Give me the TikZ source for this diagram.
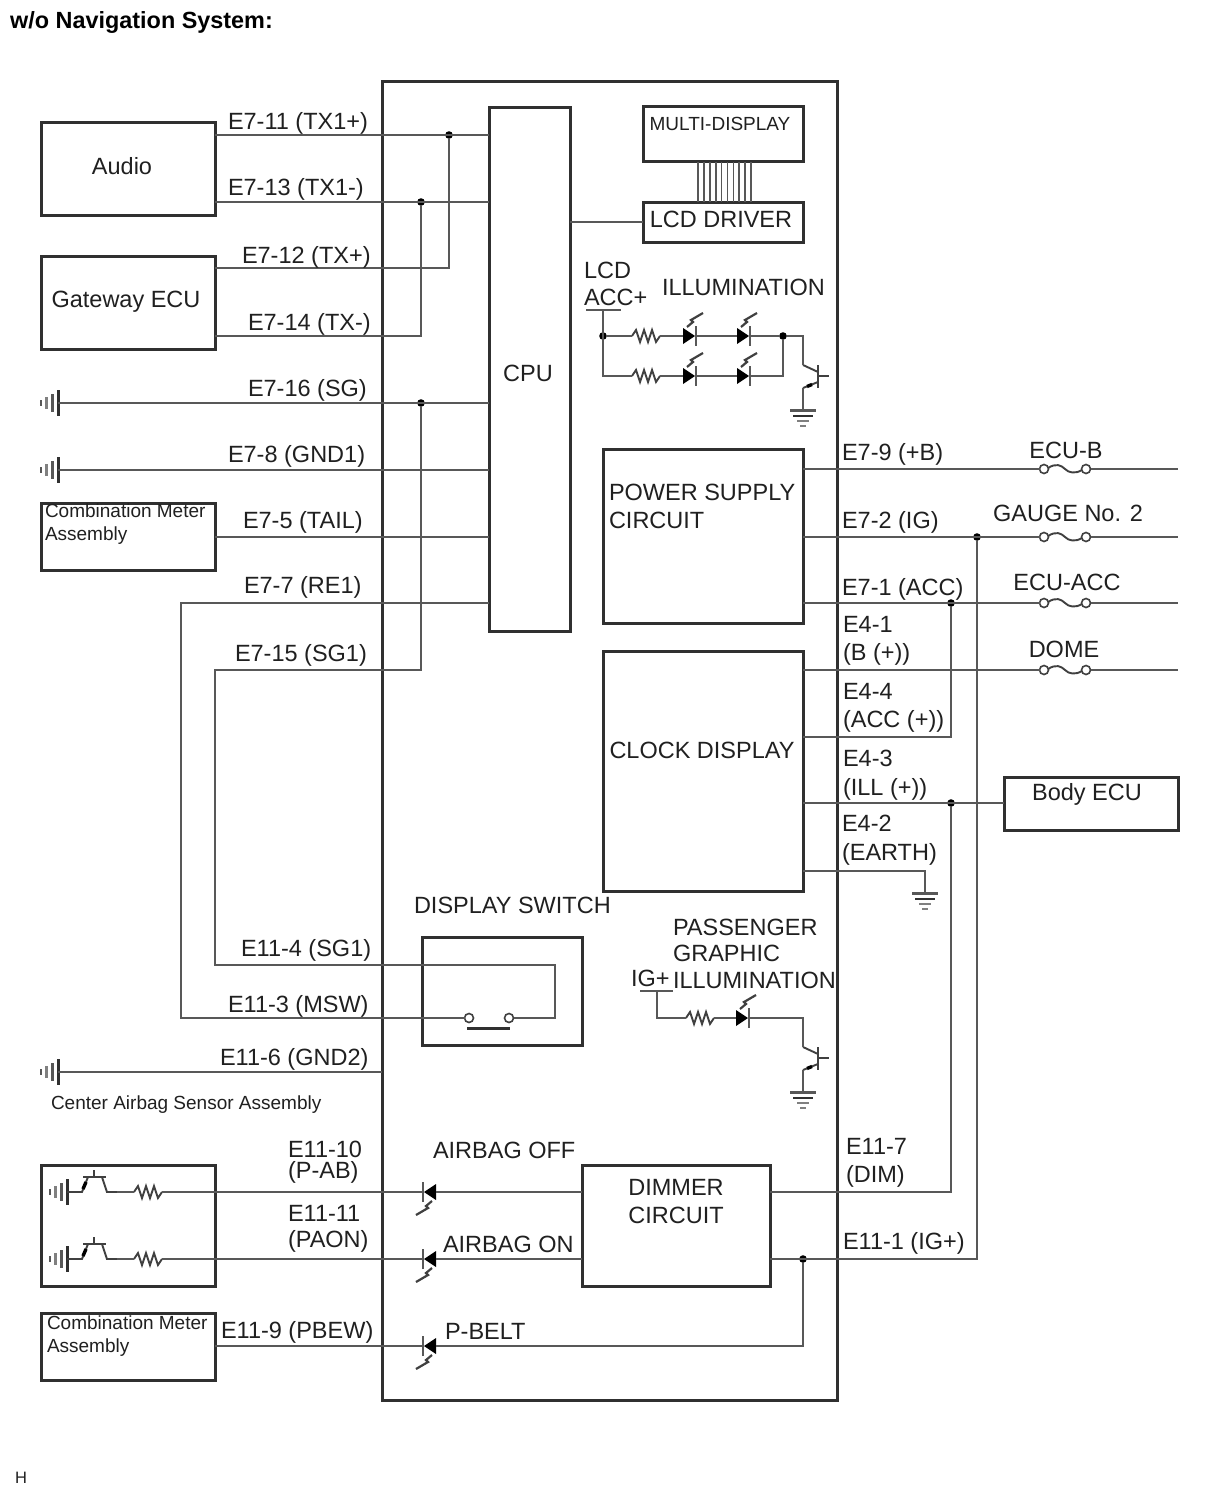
\documentclass[tikz,border=0pt]{standalone}
\usepackage{fontspec}
\setmainfont{Liberation Sans}
\newcommand{\lab}[4]{\node[lab] (#1) at (#2,#3) {#4};}
\newcommand{\clab}[4]{\node[lab,anchor=center] (#1) at (#2,#3) {#4};}
\newcommand{\slab}[4]{\node[slab] (#1) at (#2,#3) {#4};}
\newcommand{\bx}[5]{\node[boxn,minimum width={#4-#2},minimum height={#5-#3}] (#1) at ({(#2+#4)/2},{(#3+#5)/2}) {};}
\tikzset{
  x=1pt,y=-1pt,
  boxn/.style={draw=boxc,line width=3pt,fill=none,inner sep=0pt,outer sep=0pt},
  wire/.style={draw=wirec,line width=2.7pt,line join=miter},
  part/.style={draw=partc,line width=1.9pt,line join=miter},
  lab/.style={anchor=west,inner sep=0pt,outer sep=0pt,text=txtc,text height=16.7pt,text depth=0pt,font=\fontsize{23.5}{26}\selectfont},
  slab/.style={anchor=west,inner sep=0pt,outer sep=0pt,text=txtc,text height=13.6pt,text depth=0pt,font=\fontsize{19}{22}\selectfont},
  jdot/.style={circle,fill=black,draw=none,minimum size=7.6pt,inner sep=0pt,outer sep=0pt},
  cont/.style={circle,draw=partc,line width=1.6pt,fill=white,minimum size=9pt,inner sep=0pt,outer sep=0pt},
  resistor/.pic={
    \coordinate (-in) at (0,0); \coordinate (-out) at (28,0);
    \draw[part] (0,0)--(4,-6)--(8,6)--(12,-6)--(16,6)--(20,-6)--(24,6)--(28,0);
  },
  ledr/.pic={
    \coordinate (-in) at (0,0); \coordinate (-out) at (13,0);
    \fill[black] (0,-8)--(0,8)--(12,0)--cycle;
    \draw[wirec,line width=2.6pt] (13,-10)--(13,10);
    \draw[partc,line width=2.2pt] (4,-9)--(10,-14)--(8,-16)--(20,-23);
  },
  gndh/.pic={
    \coordinate (-o) at (0,0);
    \draw[boxc,line width=3pt] (0,-13)--(0,13);
    \draw[wirec,line width=3pt] (-6,-9)--(-6,9);
    \draw[gray,line width=3pt] (-12,-6)--(-12,6);
    \draw[wirec,line width=2.6pt] (-17,-3)--(-17,3);
  },
  gndv/.pic={
    \coordinate (-o) at (0,0);
    \draw[wirec,line width=3pt] (-13,0)--(13,0);
    \draw[boxc,line width=2.4pt] (-10,6)--(10,6);
    \draw[gray,line width=2.6pt] (-6,11)--(6,11);
    \draw[gray,line width=2.6pt] (-3,16)--(3,16);
  },
  trans/.pic={
    \coordinate (-in) at (0,0); \coordinate (-out) at (0,23);
    \draw[part] (0,0)--(15,7);
    \draw[part] (15,0)--(15,23);
    \draw[part] (15,11)--(26,11);
    \draw[part] (15,17)--(0,23);
    \draw[black,line width=3.4pt] (9,19.5)--(4,21.5);
  },
  fuse/.pic={
    \coordinate (-in) at (-4.5,0); \coordinate (-out) at (46.5,0);
    \draw[part] (4,-1) .. controls (12,-6) and (17,-4) .. (21,0) .. controls (25,4) and (31,5) .. (38,1);
    \node[cont] (-a) at (0,0) {};
    \node[cont] (-b) at (42,0) {};
  },
  nosw/.pic={
    \coordinate (-o) at (0,0); \coordinate (-out) at (50,0);
    \draw[part] (0,0)--(15,0)--(21,-15);
    \draw[black,line width=3.4pt] (16,-3)--(19,-10);
    \draw[part] (16,-15)--(39,-15);
    \draw[part] (27,-15)--(27,-22);
    \draw[part] (35,-15)--(40,0)--(50,0);
  },
}
\definecolor{boxc}{HTML}{303030}
\definecolor{wirec}{HTML}{585858}
\definecolor{partc}{HTML}{404040}
\definecolor{txtc}{HTML}{202020}
\begin{document}
\begin{tikzpicture}
\useasboundingbox (0,0) rectangle (1210,1498);
\fill[white] (0,0) rectangle (1210,1498);

% ---- boxes
\bx{frame}{382}{82}{837}{1400}
\bx{cpu}{489}{108}{570}{631}
\bx{mdisp}{643}{107}{803}{162}
\bx{lcd}{643}{202}{803}{242}
\bx{audio}{41}{123}{215}{215}
\bx{gate}{41}{256}{215}{349}
\bx{meterA}{41}{503}{215}{570}
\bx{psu}{603}{449}{803}{623}
\bx{clock}{603}{651}{803}{891}
\bx{body}{1004}{777}{1178}{830}
\bx{dsw}{422}{937}{582}{1045}
\bx{sensor}{41}{1165}{215}{1286}
\bx{meterB}{41}{1313}{215}{1380}
\bx{dimmer}{582}{1165}{770}{1286}

% ---- multi-display bus
\foreach \i in {0,...,9}{
  \draw[wirec,line width=1.7pt] ({698+\i*5.9},162) -- ({698+\i*5.9},202);
}
\draw[wire] (cpu.east |- 0,222) -- (lcd.west |- 0,222);

% ---- free coordinates and fuses
\coordinate (endB) at (1178,469);
\coordinate (endG) at (1178,537);
\coordinate (endA) at (1178,603);
\coordinate (endD) at (1178,670);
\pic (fB) at (1044,469) {fuse};
\pic (fG) at (1044,537) {fuse};
\pic (fA) at (1044,603) {fuse};
\pic (fD) at (1044,670) {fuse};

% ---- left grounds
\pic (g1) at (58,403) {gndh};
\pic (g2) at (58,470) {gndh};
\pic (g3) at (58,1072) {gndh};
\node[jdot] (jTXp) at (449,135) {};
\node[jdot] (jTXm) at (421,202) {};
\node[jdot] (jSG) at (421,403) {};

% ---- CPU wires
\draw[wire] (audio.east |- 0,135) -- (cpu.west |- 0,135);
\draw[wire] (audio.east |- 0,202) -- (cpu.west |- 0,202);
\draw[wire] (gate.east |- 0,268) -| (jTXp);
\draw[wire] (gate.east |- 0,336) -| (jTXm);
\draw[wire] (g1-o) -- (cpu.west |- 0,403);
\draw[wire] (g2-o) -- (cpu.west |- 0,470);
\draw[wire] (meterA.east |- 0,537) -- (cpu.west |- 0,537);

% ---- display switch
\node[cont] (swa) at (469,1018) {};
\node[cont] (swb) at (509,1018) {};
\coordinate (swbarA) at (467,1028);
\coordinate (swbarB) at (510,1028);
\draw[boxc,line width=3pt] (swbarA) -- (swbarB);
\coordinate (re1a) at (181,603);
\coordinate (re1b) at (181,1018);
\draw[wire] (cpu.west |- 0,603) -- (re1a) -- (re1b) -- (swa);
\coordinate (sg1a) at (421,670);
\coordinate (sg1b) at (215,670);
\coordinate (sg1c) at (215,965);
\coordinate (sg1d) at (555,965);
\coordinate (sg1e) at (555,1018);
\draw[wire] (jSG) -- (sg1a) -- (sg1b) -- (sg1c) -- (sg1d) -- (sg1e) -- (swb);
\draw[wire] (g3-o) -- (frame.west |- 0,1072);

% ---- right-hand junctions and wires
\node[jdot] (jIG) at (977,537) {};
\node[jdot] (jACC) at (951,603) {};
\node[jdot] (jILL) at (951,803) {};
\node[jdot] (jBelt) at (803,1259) {};
\draw[wire] (psu.east |- 0,469) -- (fB-in);
\draw[wire] (fB-out) -- (endB);
\draw[wire] (psu.east |- 0,537) -- (fG-in);
\draw[wire] (fG-out) -- (endG);
\draw[wire] (psu.east |- 0,603) -- (fA-in);
\draw[wire] (fA-out) -- (endA);
\draw[wire] (clock.east |- 0,670) -- (fD-in);
\draw[wire] (fD-out) -- (endD);
\draw[wire] (clock.east |- 0,737) -| (jACC);
\draw[wire] (clock.east |- 0,803) -- (body.west |- 0,803);
\pic (gClk) at (925,893) {gndv};
\draw[wire] (clock.east |- 0,871) -| (gClk-o);
\draw[wire] (dimmer.east |- 0,1192) -| (jILL);
\draw[wire] (dimmer.east |- 0,1259) -| (jIG);

% ---- LCD illumination
\coordinate (lcdBarA) at (586,310);
\coordinate (lcdBarB) at (621,310);
\coordinate (lcdTop) at (603,310);
\coordinate (lcdLow) at (603,376);
\draw[wire] (lcdBarA) -- (lcdBarB);
\node[jdot] (jL1) at (603,336) {};
\node[jdot] (jL2) at (783,336) {};
\pic (r1) at (632,336) {resistor};
\pic (r2) at (632,376) {resistor};
\pic (l1) at (683,336) {ledr};
\pic (l2) at (737,336) {ledr};
\pic (l3) at (683,376) {ledr};
\pic (l4) at (737,376) {ledr};
\pic (t1) at (803,365) {trans};
\pic (gT1) at (803,410) {gndv};
\coordinate (lcdLowR) at (783,376);
\draw[wire] (lcdTop) -- (lcdLow) -- (r2-in);
\draw[wire] (jL1) -- (r1-in);
\draw[wire] (r1-out) -- (l1-in);
\draw[wire] (r2-out) -- (l3-in);
\draw[wire] (l1-out) -- (l2-in);
\draw[wire] (l3-out) -- (l4-in);
\draw[wire] (l2-out) -- (jL2);
\draw[wire] (l4-out) -- (lcdLowR) -- (jL2);
\draw[wire] (jL2) -| (t1-in);
\draw[wire] (t1-out) -- (gT1-o);

% ---- passenger graphic illumination
\coordinate (igBarA) at (640,991);
\coordinate (igBarB) at (673,991);
\coordinate (igTop) at (657,991);
\coordinate (igCorner) at (657,1018);
\draw[wire] (igBarA) -- (igBarB);
\pic (r3) at (686,1018) {resistor};
\pic (l5) at (736,1018) {ledr};
\pic (t2) at (803,1047) {trans};
\pic (gT2) at (803,1092) {gndv};
\draw[wire] (igTop) -- (igCorner) -- (r3-in);
\draw[wire] (r3-out) -- (l5-in);
\draw[wire] (l5-out) -| (t2-in);
\draw[wire] (t2-out) -- (gT2-o);

% ---- airbag sensor box
\pic (g4) at (67,1192) {gndh};
\pic (g5) at (67,1259) {gndh};
\pic (s1) at (67,1192) {nosw};
\pic (s2) at (67,1259) {nosw};
\pic (r4) at (134,1192) {resistor};
\pic (r5) at (134,1259) {resistor};
\draw[wire] (s1-out) -- (r4-in);
\draw[wire] (s2-out) -- (r5-in);

% ---- indicator LEDs
\pic[rotate=180] (l6) at (436,1192) {ledr};
\pic[rotate=180] (l7) at (436,1259) {ledr};
\pic[rotate=180] (l8) at (436,1346) {ledr};
\draw[wire] (r4-out) -- (l6-out);
\draw[wire] (r5-out) -- (l7-out);
\draw[wire] (meterB.east |- 0,1346) -- (l8-out);
\draw[wire] (dimmer.west |- 0,1192) -- (l6-in);
\draw[wire] (dimmer.west |- 0,1259) -- (l7-in);
\coordinate (beltC) at (803,1346);
\draw[wire] (l8-in) -- (beltC) -- (jBelt);

% ---- texts
\node[anchor=west,inner sep=0pt,text=black,text height=16.2pt,text depth=0pt,font=\fontsize{23.4}{26}\selectfont\bfseries] (title) at (10,20) {w/o Navigation System:};
\node[anchor=west,inner sep=0pt,text=txtc,text height=12pt,text depth=0pt,font=\fontsize{16.5}{20}\selectfont] (hmark) at (15,1477) {H};

\clab{tAudio}{122}{166}{Audio}
\clab{tGate}{126}{299}{Gateway ECU}
\slab{tMetA1}{45}{511}{Combination Meter}
\slab{tMetA2}{45}{534}{Assembly}
\slab{tMetB1}{47}{1323}{Combination Meter}
\slab{tMetB2}{47}{1346}{Assembly}
\slab{tCenter}{51}{1103}{Center Airbag Sensor Assembly}
\clab{tCpu}{528}{373}{CPU}
\node[slab,anchor=center] (tMulti) at (720,124) {MULTI-DISPLAY};
\clab{tLcd}{721}{219}{LCD DRIVER}
\lab{tLcdA}{584}{270}{LCD}
\lab{tLcdB}{584}{297}{ACC+}
\lab{tIll}{662}{287}{ILLUMINATION}
\lab{tPs1}{609}{492}{POWER SUPPLY}
\lab{tPs2}{609}{520}{CIRCUIT}
\clab{tClock}{702}{750}{CLOCK DISPLAY}
\clab{tBody}{1087}{792}{Body ECU}
\lab{tDs}{414}{905}{DISPLAY SWITCH}
\lab{tPg1}{673}{927}{PASSENGER}
\lab{tPg2}{673}{953}{GRAPHIC}
\lab{tPg3}{673}{980}{ILLUMINATION}
\lab{tIg}{631}{978}{IG+}
\clab{tDim1}{676}{1187}{DIMMER}
\clab{tDim2}{676}{1215}{CIRCUIT}
\lab{tAoff}{433}{1150}{AIRBAG OFF}
\lab{tAon}{443}{1244}{AIRBAG ON}
\lab{tBelt}{445}{1331}{P-BELT}

\lab{p1}{228}{121}{E7-11 (TX1+)}
\lab{p2}{228}{187}{E7-13 (TX1-)}
\lab{p3}{242}{255}{E7-12 (TX+)}
\lab{p4}{248}{322}{E7-14 (TX-)}
\lab{p5}{248}{388}{E7-16 (SG)}
\lab{p6}{228}{454}{E7-8 (GND1)}
\lab{p7}{243}{520}{E7-5 (TAIL)}
\lab{p8}{244}{585}{E7-7 (RE1)}
\lab{p9}{235}{653}{E7-15 (SG1)}
\lab{p10}{241}{948}{E11-4 (SG1)}
\lab{p11}{228}{1004}{E11-3 (MSW)}
\lab{p12}{220}{1057}{E11-6 (GND2)}
\lab{p13}{288}{1149}{E11-10}
\lab{p14}{288}{1170}{(P-AB)}
\lab{p15}{288}{1213}{E11-11}
\lab{p16}{288}{1239}{(PAON)}
\lab{p17}{221}{1330}{E11-9 (PBEW)}
\lab{q1}{842}{452}{E7-9 (+B)}
\lab{q2}{842}{520}{E7-2 (IG)}
\lab{q3}{842}{587}{E7-1 (ACC)}
\lab{q4}{843}{624}{E4-1}
\lab{q5}{843}{652}{(B (+))}
\lab{q6}{843}{691}{E4-4}
\lab{q7}{843}{719}{(ACC (+))}
\lab{q8}{843}{758}{E4-3}
\lab{q9}{843}{787}{(ILL (+))}
\lab{q10}{842}{823}{E4-2}
\lab{q11}{842}{852}{(EARTH)}
\lab{q12}{846}{1146}{E11-7}
\lab{q13}{846}{1174}{(DIM)}
\lab{q14}{843}{1241}{E11-1 (IG+)}
\clab{f1}{1066}{450}{ECU-B}
\clab{f2}{1068}{513}{GAUGE No. 2}
\clab{f3}{1067}{582}{ECU-ACC}
\clab{f4}{1064}{649}{DOME}
\end{tikzpicture}
\end{document}
